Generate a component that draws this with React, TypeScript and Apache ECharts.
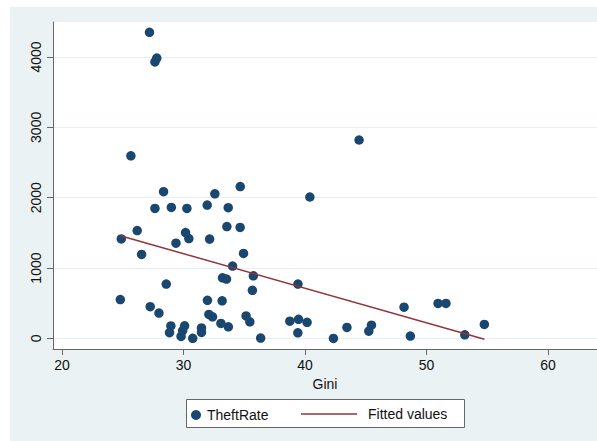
import React, { useEffect, useRef } from "react";
import * as echarts from "echarts";

// Gini coefficient (x) and theft rate (y)
const gini: number[] = [
  27.2, 27.65, 27.8, 25.67, 44.45, 40.4, 27.65, 28.36, 29.0, 30.28,
  31.95, 32.58, 33.68, 34.67, 26.19, 24.88, 26.55, 30.17, 30.44, 29.38,
  32.15, 33.57, 34.66, 34.94, 34.04, 33.21, 33.54, 35.75, 35.67, 28.58,
  39.42, 24.8, 27.26, 27.98, 31.97, 33.18, 32.09, 32.39, 35.15, 35.46,
  33.08, 33.69, 28.96, 28.85, 30.09, 29.93, 29.8, 30.76, 31.48, 31.48,
  36.35, 38.75, 39.47, 40.17, 39.41, 42.34, 43.45, 45.25, 45.47, 48.15,
  48.67, 50.95, 51.6, 53.15, 54.76,
];
const theftRate: number[] = [
  4351, 3930, 3985, 2596, 2820, 2010, 1848, 2085, 1862, 1848,
  1895, 2055, 1858, 2158, 1533, 1414, 1194, 1505, 1420, 1353,
  1412, 1590, 1578, 1208, 1028, 862, 843, 890, 684, 772,
  772, 552, 452, 360, 542, 535, 341, 308, 320, 236,
  213, 165, 178, 82, 180, 112, 28, 2, 150, 85,
  6, 246, 272, 229, 80, 0, 156, 104, 189, 445,
  33, 498, 498, 51, 199,
];
// Fitted values line end points (x, y)
const fitX: number[] = [24.8, 54.76];
const fitY: number[] = [1460, -12];

const xTicks: number[] = [20, 30, 40, 50, 60];
const yTicks: number[] = [0, 1000, 2000, 3000, 4000];

const NAVY = "#1a476f";
const MAROON = "#90353b";
const BG = "#eaf2f3";
const AXIS = "#666666";
const FONT = "'Liberation Sans', Arial, Helvetica, sans-serif";

export default function App() {
  const ref = useRef<HTMLDivElement>(null);
  useEffect(() => {
    if (!ref.current) return;
    const chart = echarts.init(ref.current, undefined, { renderer: "svg" });
    const scatterData = gini.map((g, i) => [g, theftRate[i]]);
    const fitData = fitX.map((x, i) => [x, fitY[i]]);
    chart.setOption({
      animation: false,
      backgroundColor: "#ffffff",
      textStyle: { fontFamily: FONT },
      graphic: [
        {
          type: "rect",
          z: -10,
          silent: true,
          shape: { x: 10, y: 7, width: 587, height: 434 },
          style: { fill: BG },
        },
        {
          type: "rect",
          z: 5,
          silent: true,
          shape: { x: 186.5, y: 399.5, width: 278, height: 28 },
          style: { fill: "#ffffff", stroke: "#666666", lineWidth: 1 },
        },
      ],
      grid: {
        left: 53,
        top: 22,
        right: 0,
        bottom: 92,
        show: true,
        backgroundColor: "#ffffff",
        borderWidth: 0,
        containLabel: false,
      },
      legend: [
        {
          z: 10,
          data: [{ name: "TheftRate", icon: "circle" }],
          left: 191,
          top: 408,
          itemWidth: 10,
          itemHeight: 10,
          padding: 0,
          textStyle: { fontSize: 14, color: "#111", fontFamily: FONT, padding: [0, 0, 0, 1] },
        },
        {
          z: 10,
          data: [{ name: "Fitted values", icon: "rect" }],
          left: 301,
          top: 407,
          itemWidth: 56,
          itemHeight: 1.5,
          padding: 0,
          textStyle: { fontSize: 14, color: "#111", fontFamily: FONT, padding: [0, 0, 0, 6] },
        },
      ],
      xAxis: {
        type: "value",
        min: 19.26,
        max: 64.03,
        name: "Gini",
        nameLocation: "middle",
        nameGap: 26,
        nameTextStyle: { fontSize: 14, color: "#111", fontFamily: FONT },
        axisLine: { show: true, onZero: false, lineStyle: { color: AXIS, width: 1 } },
        axisTick: { show: true, length: 6, customValues: xTicks, lineStyle: { color: AXIS } },
        axisLabel: {
          customValues: xTicks,
          fontSize: 14,
          color: "#111",
          margin: 9,
          fontFamily: FONT,
          formatter: (v: number) => String(v),
        },
        splitLine: { show: false },
      },
      yAxis: {
        type: "value",
        min: -150,
        max: 4497,
        axisLine: { show: true, onZero: false, lineStyle: { color: AXIS, width: 1 } },
        axisTick: { show: true, length: 6, customValues: yTicks, lineStyle: { color: AXIS } },
        axisLabel: {
          customValues: yTicks,
          fontSize: 14,
          color: "#111",
          rotate: 90,
          margin: 10,
          fontFamily: FONT,
          formatter: (v: number) => String(v),
        },
        splitLine: { show: true, lineStyle: { color: "#e6eff2", width: 1.2 } },
      },
      series: [
        {
          name: "TheftRate",
          type: "scatter",
          data: scatterData,
          symbol: "circle",
          symbolSize: 9.5,
          itemStyle: { color: NAVY, opacity: 1 },
          z: 3,
        },
        {
          name: "Fitted values",
          type: "line",
          data: fitData,
          symbol: "none",
          showSymbol: false,
          lineStyle: { color: MAROON, width: 1.5 },
          itemStyle: { color: MAROON },
          z: 4,
        },
      ],
    });
    return () => chart.dispose();
  }, []);
  return (
    <div
      ref={ref}
      style={{ position: "fixed", left: 0, top: 0, width: 597, height: 441 }}
    />
  );
}
